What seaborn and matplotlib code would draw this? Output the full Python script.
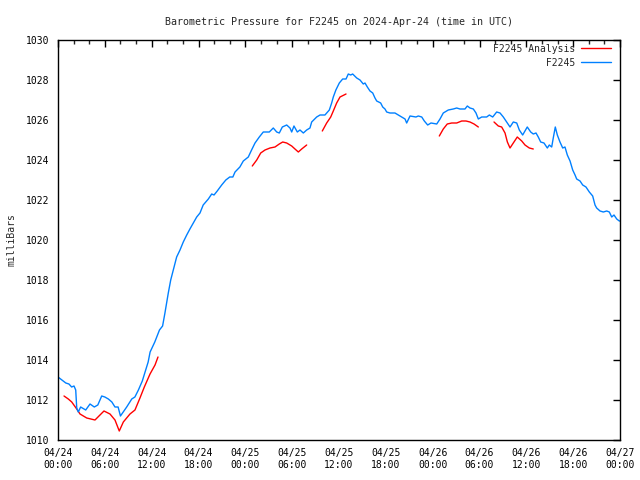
import pandas as pd
import numpy as np
import matplotlib
matplotlib.use("Agg")
import matplotlib.pyplot as plt
import matplotlib.dates as mdates
import seaborn as sns

# --- DATA (hours after 2024-04-24 00:00 UTC, pressure in mbar) ---
START = pd.Timestamp("2024-04-24 00:00")

obs_hours = [0.0, 0.5, 1.0, 1.4, 1.75, 2.05, 2.27, 2.4, 2.6, 2.9, 3.55, 4.1, 4.65, 5.1, 5.6,
             6.0, 6.45, 6.9, 7.3, 7.7, 8.0, 8.35, 8.8, 9.45, 9.85, 10.3, 10.8, 11.15, 11.55,
             11.8, 12.4, 13.0, 13.4, 13.7, 13.93, 14.13, 14.44, 14.77, 15.2, 15.63, 16.05,
             16.49, 16.9, 17.33, 17.77, 18.19, 18.6, 19.26, 19.69, 19.99, 20.4, 20.97, 21.5,
             22.0, 22.4, 22.68, 23.3, 23.74, 24.38, 24.8, 25.24, 25.79, 26.3, 27.07, 27.58,
             28.02, 28.35, 28.74, 29.3, 29.72, 29.94, 30.23, 30.66, 31.0, 31.43, 31.86, 32.28,
             32.5, 33.14, 33.57, 34.2, 34.76, 35.06, 35.27, 35.6, 36.04, 36.47, 36.9, 37.19,
             37.5, 37.75, 38.27, 38.69, 39.11, 39.33, 39.63, 39.97, 40.32, 40.61, 40.83, 41.34,
             41.6, 41.89, 42.11, 42.53, 43.17, 43.6, 44.03, 44.46, 44.67, 45.1, 45.86, 46.16,
             46.6, 46.93, 47.36, 47.79, 48.52, 48.94, 49.36, 50.0, 50.64, 51.08, 51.5, 52.14,
             52.44, 52.78, 53.21, 53.55, 53.85, 54.28, 54.92, 55.26, 55.69, 56.2, 56.63, 57.05,
             57.48, 57.91, 58.33, 58.77, 59.1, 59.53, 60.12, 60.56, 60.89, 61.24, 61.53, 61.84,
             62.26, 62.69, 62.94, 63.25, 63.45, 63.71, 63.97, 64.31, 64.66, 64.95, 65.25, 65.6,
             65.94, 66.24, 66.45, 66.88, 67.22, 67.64, 68.07, 68.5, 68.8, 69.01, 69.44, 69.86,
             70.3, 70.63, 70.94, 71.23, 71.58, 71.91, 72.0]
obs_mbar = [1013.15, 1013.0, 1012.85, 1012.8, 1012.65, 1012.7, 1012.5, 1011.6, 1011.4, 1011.65,
            1011.5, 1011.8, 1011.65, 1011.75, 1012.2, 1012.15, 1012.05, 1011.9, 1011.65, 1011.65,
            1011.2, 1011.4, 1011.65, 1012.05, 1012.15, 1012.5, 1012.95, 1013.4, 1013.9, 1014.4,
            1014.9, 1015.5, 1015.7, 1016.35, 1016.9, 1017.35, 1018.0, 1018.5, 1019.15, 1019.5,
            1019.9, 1020.25, 1020.55, 1020.85, 1021.15, 1021.35, 1021.75, 1022.05, 1022.3,
            1022.25, 1022.45, 1022.75, 1023.0, 1023.15, 1023.15, 1023.4, 1023.65, 1023.95,
            1024.15, 1024.5, 1024.85, 1025.15, 1025.4, 1025.4, 1025.6, 1025.4, 1025.35, 1025.65,
            1025.75, 1025.6, 1025.4, 1025.7, 1025.4, 1025.5, 1025.35, 1025.5, 1025.6, 1025.9,
            1026.15, 1026.25, 1026.25, 1026.5, 1026.85, 1027.15, 1027.5, 1027.85, 1028.05,
            1028.05, 1028.3, 1028.25, 1028.3, 1028.1, 1028.0, 1027.8, 1027.85, 1027.65, 1027.45,
            1027.35, 1027.1, 1026.95, 1026.85, 1026.65, 1026.55, 1026.4, 1026.35, 1026.35,
            1026.25, 1026.15, 1026.05, 1025.85, 1026.2, 1026.15, 1026.2, 1026.15, 1025.95,
            1025.75, 1025.85, 1025.8, 1026.05, 1026.35, 1026.5, 1026.55, 1026.6, 1026.55,
            1026.55, 1026.7, 1026.6, 1026.55, 1026.35, 1026.05, 1026.15, 1026.15, 1026.25,
            1026.15, 1026.4, 1026.35, 1026.15, 1025.9, 1025.65, 1025.9, 1025.85, 1025.5, 1025.25,
            1025.65, 1025.4, 1025.3, 1025.35, 1025.15, 1024.9, 1024.85, 1024.6, 1024.75, 1024.65,
            1025.1, 1025.65, 1025.25, 1024.9, 1024.6, 1024.65, 1024.25, 1023.95, 1023.5, 1023.25,
            1023.05, 1022.95, 1022.75, 1022.65, 1022.4, 1022.2, 1021.75, 1021.6, 1021.45, 1021.4,
            1021.45, 1021.4, 1021.15, 1021.25, 1021.05, 1020.95, 1020.95]

# analysis comes in separate runs (gaps between them)
ana_hours_1 = [0.77, 1.32, 1.76, 2.4, 2.82, 3.68, 4.74, 5.25, 5.89, 6.66, 7.3, 7.85, 8.37, 9.22,
               9.86, 10.5, 11.06, 11.79, 12.43, 12.81]
ana_mbar_1 = [1012.2, 1012.05, 1011.9, 1011.55, 1011.3, 1011.1, 1011.0, 1011.2, 1011.45, 1011.3,
              1011.0, 1010.45, 1010.9, 1011.3, 1011.5, 1012.1, 1012.65, 1013.3, 1013.75, 1014.15]
ana_hours_2 = [24.89, 25.46, 25.97, 26.52, 27.16, 27.8, 28.35, 28.79, 29.3, 29.94, 30.36, 30.79,
               31.22, 31.86]
ana_mbar_2 = [1023.7, 1024.0, 1024.35, 1024.5, 1024.6, 1024.65, 1024.8, 1024.9, 1024.85, 1024.7,
              1024.55, 1024.4, 1024.55, 1024.75]
ana_hours_3 = [33.86, 34.42, 34.94, 35.27, 35.7, 36.13, 36.9]
ana_mbar_3 = [1025.45, 1025.85, 1026.15, 1026.45, 1026.85, 1027.15, 1027.3]
ana_hours_4 = [48.85, 49.36, 49.87, 50.44, 51.08, 51.72, 52.27, 52.78, 53.3, 53.85]
ana_mbar_4 = [1025.2, 1025.55, 1025.8, 1025.85, 1025.85, 1025.95, 1025.95, 1025.9, 1025.8, 1025.65]
ana_hours_5 = [55.86, 56.41, 56.84, 57.27, 57.57, 57.91, 58.33, 58.84, 59.41, 59.83, 60.38, 60.89]
ana_mbar_5 = [1025.9, 1025.7, 1025.65, 1025.35, 1024.9, 1024.6, 1024.85, 1025.15, 1024.95,
              1024.75, 1024.6, 1024.55]

SERIES = ["F2245 Analysis", "F2245"]
COLORS = {"F2245 Analysis": "#ff0000", "F2245": "#0080ff"}

# --- build long table ---
frames = []
ana_runs = [(ana_hours_1, ana_mbar_1), (ana_hours_2, ana_mbar_2), (ana_hours_3, ana_mbar_3),
            (ana_hours_4, ana_mbar_4), (ana_hours_5, ana_mbar_5)]
for i, (h, p) in enumerate(ana_runs):
    frames.append(pd.DataFrame({"hours": h, "mbar": p, "series": SERIES[0], "seg": f"a{i}"}))
frames.append(pd.DataFrame({"hours": obs_hours, "mbar": obs_mbar, "series": SERIES[1], "seg": "obs"}))
df = pd.concat(frames, ignore_index=True)
df["time"] = START + pd.to_timedelta(df["hours"], unit="h")

# --- plot ---
sns.set_theme(style="white")
plt.rcParams["font.family"] = ["DejaVu Sans Mono"]

fig = plt.figure(figsize=(6.4, 4.8), dpi=100)
ax = fig.add_axes([58 / 640, 40 / 480, 562 / 640, 400 / 480])

sns.lineplot(data=df, x="time", y="mbar", hue="series", hue_order=SERIES, units="seg",
             estimator=None, sort=False, palette=COLORS, linewidth=1, ax=ax)

ax.set_xlim(START, START + pd.Timedelta(hours=72))
ax.set_ylim(1010, 1030)
ax.set_yticks(np.arange(1010, 1031, 2))
ax.xaxis.set_major_locator(mdates.HourLocator(byhour=[0, 6, 12, 18]))
ax.xaxis.set_minor_locator(mdates.HourLocator(byhour=range(0, 24, 2)))
ax.xaxis.set_major_formatter(mdates.DateFormatter("%m/%d\n%H:%M"))

ax.tick_params(axis="both", which="major", direction="in", length=5, width=1,
               top=True, right=True, labelsize=7, colors="black", pad=6)
ax.tick_params(axis="x", which="minor", direction="in", length=3, width=1, top=True)
for s in ax.spines.values():
    s.set_color("black")
    s.set_linewidth(1)

ax.set_title("Barometric Pressure for F2245 on 2024-Apr-24 (time in UTC)", fontsize=7.2, pad=11)
ax.set_xlabel("")
ax.set_ylabel("milliBars", fontsize=7, labelpad=7)

handles, labels = ax.get_legend_handles_labels()
width = max(len(l) for l in labels)
labels = [l.rjust(width) for l in labels]
ax.legend(handles, labels, loc="upper right", bbox_to_anchor=(1.0, 1.0125), frameon=False,
          markerfirst=False, fontsize=7, handlelength=3.1, handletextpad=0.6,
          labelspacing=0.4, borderaxespad=0.6, borderpad=0.3)

fig.savefig("out.png", dpi=100)
